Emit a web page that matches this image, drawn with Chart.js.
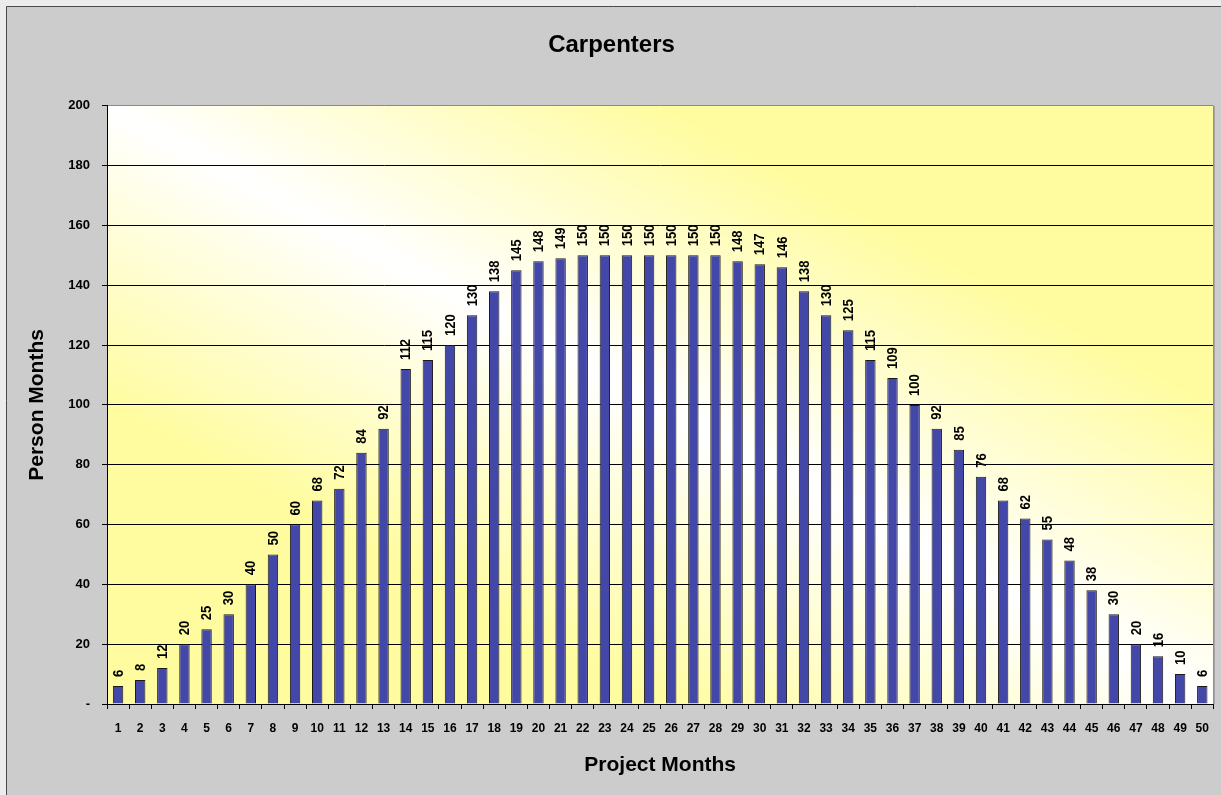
<!DOCTYPE html>
<html>
<head>
<meta charset="utf-8">
<script src="https://cdn.jsdelivr.net/npm/chart.js@4"></script>
<style>
  html, body { margin: 0; padding: 0; background: #ececec; }
  #wrap { width: 1221px; height: 795px; }
</style>
</head>
<body>
<div id="wrap"><canvas id="c" width="1221" height="795"></canvas></div>
<script>
// ---- Data ----
var MONTHS = [];
for (var i = 1; i <= 50; i++) MONTHS.push(String(i));
var PERSON_MONTHS = [6, 8, 12, 20, 25, 30, 40, 50, 60, 68, 72, 84, 92, 112, 115, 120, 130, 138, 145, 148,
  149, 150, 150, 150, 150, 150, 150, 150, 148, 147, 146, 138, 130, 125, 115, 109, 100, 92, 85, 76,
  68, 62, 55, 48, 38, 30, 20, 16, 10, 6];
var Y_MAX = 200, Y_STEP = 20;

var FONT = 'Arial, "Liberation Sans", sans-serif';
var BAR = '#4347a8';
var YELLOW = 'rgb(255,252,160)';

// Frame + plot-area gradient (yellow corners, white diagonal band).
var backdrop = {
  id: 'backdrop',
  beforeDraw: function (chart) {
    var ctx = chart.ctx, a = chart.chartArea;
    ctx.save();
    ctx.fillStyle = '#cccccc';
    ctx.fillRect(6, 6, chart.width - 6, chart.height - 6);
    ctx.strokeStyle = '#4a4a4a'; ctx.lineWidth = 1;
    ctx.beginPath(); ctx.moveTo(6.5, chart.height); ctx.lineTo(6.5, 6.5); ctx.lineTo(chart.width, 6.5); ctx.stroke();

    var w = a.right - a.left, h = a.bottom - a.top;
    var cx = (a.left + a.right) / 2, cy = (a.top + a.bottom) / 2;
    var k = (w * h / 2) / (w * w + h * h);
    var g = ctx.createLinearGradient(cx - k * h, cy + k * w, cx + k * h, cy - k * w);
    g.addColorStop(0, YELLOW); g.addColorStop(0.5, '#ffffff'); g.addColorStop(1, YELLOW);
    ctx.fillStyle = g;
    ctx.fillRect(a.left, a.top, w, h);
    ctx.restore();
  },
  afterDatasetsDraw: function (chart) {
    var ctx = chart.ctx, a = chart.chartArea;
    ctx.save();
    ctx.strokeStyle = '#8a8a8a'; ctx.lineWidth = 1.5;
    ctx.beginPath(); ctx.moveTo(a.right + 0.5, a.top); ctx.lineTo(a.right + 0.5, a.bottom); ctx.stroke();
    ctx.restore();
  }
};

// Rotated value labels above each bar (slightly condensed, like the original).
var valueLabels = {
  id: 'valueLabels',
  afterDatasetsDraw: function (chart) {
    var ctx = chart.ctx;
    var meta = chart.getDatasetMeta(0);
    var data = chart.data.datasets[0].data;
    ctx.save();
    ctx.fillStyle = '#000';
    ctx.font = 'bold 15px ' + FONT;
    ctx.textAlign = 'left'; ctx.textBaseline = 'middle';
    meta.data.forEach(function (bar, i) {
      ctx.save();
      ctx.translate(bar.x + 0.5, bar.y - 9);
      ctx.rotate(-Math.PI / 2);
      ctx.scale(0.87, 1);
      ctx.fillText(String(data[i]), 0, 0);
      ctx.restore();
    });
    ctx.restore();
  }
};

new Chart(document.getElementById('c'), {
  type: 'bar',
  data: {
    labels: MONTHS,
    datasets: [{
      data: PERSON_MONTHS,
      backgroundColor: BAR, borderColor: '#1a1a1a', borderWidth: 1,
      categoryPercentage: 1, barPercentage: 0.47
    }]
  },
  options: {
    responsive: false, animation: false,
    layout: { padding: { left: 7, top: 7, right: 5, bottom: 0 } },
    plugins: {
      legend: { display: false }, tooltip: { enabled: false },
      title: { display: true, text: 'Carpenters', color: '#000',
        font: { family: FONT, size: 24, weight: 'bold' }, padding: { top: 24, bottom: 46 } }
    },
    scales: {
      x: {
        grid: { offset: true, drawOnChartArea: false, drawTicks: true, tickLength: 5, tickColor: '#000' },
        border: { color: '#000', width: 1 },
        ticks: { color: '#000', font: { family: FONT, size: 12, weight: 'bold' }, padding: 12,
          autoSkip: false, maxRotation: 0 },
        title: { display: true, text: 'Project Months', color: '#000',
          font: { family: FONT, size: 21, weight: 'bold' }, padding: { top: 0, bottom: 17 } },
        afterFit: function (s) { s.height = 91; }
      },
      y: {
        min: 0, max: Y_MAX,
        grid: { color: function (c) { return c.tick && c.tick.value === Y_MAX ? '#8a8a8a' : '#000'; },
          tickLength: 5, tickColor: '#000' },
        border: { color: '#000', width: 1 },
        ticks: { stepSize: Y_STEP, color: '#000', padding: 12,
          font: { family: FONT, size: 13, weight: 'bold' },
          callback: function (v) { return v === 0 ? '-' : v; } },
        title: { display: true, text: 'Person Months', color: '#000',
          font: { family: FONT, size: 21, weight: 'bold' }, padding: { top: 18, bottom: 0 } },
        afterFit: function (s) { s.width = 100; }
      }
    }
  },
  plugins: [backdrop, valueLabels]
});
</script>
</body>
</html>
